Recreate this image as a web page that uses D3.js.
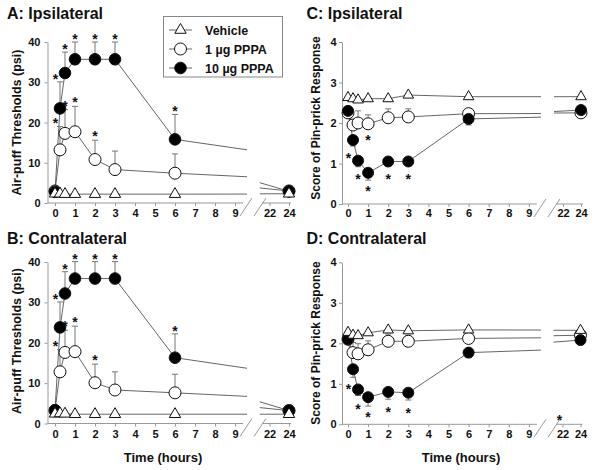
<!DOCTYPE html>
<html><head><meta charset="utf-8">
<script src="https://cdn.jsdelivr.net/npm/d3@7"></script>
<style>
body{margin:0;background:#fff}
svg{display:block}
text{font-family:"Liberation Sans",Arial,sans-serif;font-weight:bold;fill:#111}
</style>
</head><body>
<svg id="c" width="600" height="470"></svg>
<script>
// ---------- data ----------
const times = [0, 0.25, 0.5, 1, 2, 3, 6, 24];
const xTicks1 = [0, 1, 2, 3, 4, 5, 6, 7, 8, 9];
const xTicks2 = [22, 24];
const airTicks = [0, 10, 20, 30, 40];
const pinTicks = [0, 1, 2, 3, 4];
const seriesNames = ["Vehicle", "1 \u00b5g PPPA", "10 \u00b5g PPPA"];
const panelTitles = ["A: Ipsilateral", "B: Contralateral", "C: Ipsilateral", "D: Contralateral"];
const airLabel = "Air-puff Thresholds (psi)";
const pinLabel = "Score of Pin-prick Response";
const timeLabel = "Time (hours)";

// A: ipsilateral air-puff
const aVeh   = [2.3, 2.3, 2.2, 2.2, 2.2, 2.2, 2.2, 2.3];
const aLo    = [3.0, 13.2, 17.3, 17.7, 10.8, 8.3, 7.4, 3.0];
const aLoErr = [0, 5.8, 5.9, 6.3, 4.8, 4.6, 4.8, 0];
const aHi    = [2.8, 23.5, 32.3, 35.7, 35.7, 35.7, 15.8, 2.9];
const aHiErr = [0, 6.6, 5.2, 4.3, 4.3, 4.3, 6.2, 0];
const aLoSig = [0, 1, 1, 1, 1, 0, 0, 0];
const aHiSig = [0, 1, 1, 1, 1, 1, 1, 0];

// B: contralateral air-puff
const bVeh   = [2.4, 2.5, 2.4, 2.3, 2.3, 2.3, 2.3, 2.3];
const bLo    = [3.2, 12.8, 17.6, 17.8, 10.1, 8.3, 7.6, 3.2];
const bLoErr = [0, 5.5, 5.5, 6.3, 4.6, 4.5, 4.6, 0];
const bHi    = [3.3, 23.8, 32.2, 35.9, 35.9, 35.9, 16.3, 3.2];
const bHiErr = [0, 6.3, 5.4, 4.2, 4.2, 4.2, 5.9, 0];
const bLoSig = [0, 1, 1, 1, 1, 0, 0, 0];
const bHiSig = [0, 1, 1, 1, 1, 1, 1, 0];

// C: ipsilateral pin-prick
const cVeh   = [2.63, 2.6, 2.57, 2.6, 2.6, 2.69, 2.65, 2.65];
const cLo    = [2.25, 1.95, 2.0, 1.98, 2.13, 2.15, 2.23, 2.25];
const cLoErr = [0, 0.1, 0.3, 0.22, 0.22, 0.2, 0.05, 0];
const cHi    = [2.3, 1.58, 1.07, 0.77, 1.05, 1.05, 2.1, 2.32];
const cHiErr = [0, 0.15, 0.15, 0.18, 0.12, 0.1, 0.15, 0];
const cLoSig = [0, 0, 0, 1, 0, 0, 0, 0];
const cHiSig = [0, 1, 1, 1, 1, 1, 0, 0];

// D: contralateral pin-prick
const dVeh   = [2.27, 2.2, 2.19, 2.26, 2.33, 2.31, 2.33, 2.32];
const dLo    = [2.1, 1.77, 1.74, 1.84, 2.05, 2.05, 2.12, 2.2];
const dLoErr = [0, 0.25, 0.25, 0.22, 0.18, 0.15, 0.05, 0];
const dHi    = [2.1, 1.36, 0.86, 0.67, 0.8, 0.78, 1.77, 2.08];
const dHiErr = [0, 0.2, 0.15, 0.22, 0.18, 0.18, 0.12, 0];
const dLoSig = [0, 0, 0, 0, 0, 0, 0, 0];
const dHiSig = [0, 1, 1, 1, 1, 1, 0, 0];
const dExtraStarTimes = [22];

// ---------- drawing ----------
const svg = d3.select("#c");
const AX = "#999", LINE = "#666", ERR = "#777", MK = "#111";
const BREAK_END = 9.6, BREAK_START = 21;
const fmt = d3.format("d");

const panels = [
  {title: panelTitles[0], tx: 7, ty: 19, yAxisX: 47.5, x0: 55, pxh: 20, x24: 289, pxh2: 9.75,
   y0: 203, yTop: 42, yMax: 40, yTicks: airTicks, ylab: airLabel, ylx: 21, yly: 122.5, ylfs: 12.5,
   veh: aVeh, lo: aLo, loErr: aLoErr, hi: aHi, hiErr: aHiErr, loSig: aLoSig, hiSig: aHiSig,
   hiDown: false, labOff: 3.5, triSize: 56, rW: 6, rB: 5.8, ypad: 4},
  {title: panelTitles[1], tx: 7, ty: 243.5, yAxisX: 47.5, x0: 55, pxh: 20, x24: 289, pxh2: 9.75,
   y0: 423.5, yTop: 262, yMax: 40, yTicks: airTicks, ylab: airLabel, ylx: 21, yly: 341, ylfs: 12.5,
   veh: bVeh, lo: bLo, loErr: bLoErr, hi: bHi, hiErr: bHiErr, loSig: bLoSig, hiSig: bHiSig,
   hiDown: false, labOff: 3.5, triSize: 56, rW: 6, rB: 5.8, ypad: 4, xlab: true, xlx: 163},
  {title: panelTitles[2], tx: 306.5, ty: 19, yAxisX: 342, x0: 348, pxh: 20.1, x24: 581, pxh2: 9,
   y0: 204, yTop: 42, yMax: 4, yTicks: pinTicks, ylab: pinLabel, ylx: 319.5, yly: 118, ylfs: 12,
   veh: cVeh, lo: cLo, loErr: cLoErr, hi: cHi, hiErr: cHiErr, loSig: cLoSig, hiSig: cHiSig,
   hiDown: true, starGap: 15, labOff: 2.5, triSize: 48, rW: 6, rB: 5.5, ypad: 2.5},
  {title: panelTitles[3], tx: 306.5, ty: 243.5, yAxisX: 342, x0: 348, pxh: 20.1, x24: 580.5, pxh2: 9,
   y0: 424.3, yTop: 262.3, yMax: 4, yTicks: pinTicks, ylab: pinLabel, ylx: 319.5, yly: 343, ylfs: 12,
   veh: dVeh, lo: dLo, loErr: dLoErr, hi: dHi, hiErr: dHiErr, loSig: dLoSig, hiSig: dHiSig,
   hiDown: true, starGap: 17, labOff: 2.5, triSize: 48, rW: 6, rB: 5.5, ypad: 2.5,
   extraStars: dExtraStarTimes, xlab: true, xlx: 461}
];

function drawPanel(p) {
  const g = svg.append("g");
  const ys = d3.scaleLinear().domain([0, p.yMax]).range([p.y0, p.yTop]);
  const xa = d3.scaleLinear().domain([0, 9]).range([p.x0, p.x0 + 9 * p.pxh]);
  const xb = d3.scaleLinear().domain([22, 24]).range([p.x24 - 2 * p.pxh2, p.x24]);
  const X = t => (t < 15 ? xa(t) : xb(t));

  // title
  g.append("text").attr("x", p.tx).attr("y", p.ty).style("font-size", "16px").text(p.title);

  // y axis
  const ya = g.append("g").attr("transform", `translate(${p.yAxisX},0)`)
    .call(d3.axisLeft(ys).tickValues(p.yTicks).tickFormat(fmt).tickSize(3).tickSizeOuter(0).tickPadding(p.ypad));
  ya.select(".domain").attr("stroke", AX);
  ya.selectAll(".tick line").attr("stroke", AX);
  ya.selectAll(".tick text").style("font-size", "11px").attr("fill", "#111");

  // x axis segments
  [[xa, xTicks1], [xb, xTicks2]].forEach(([sc, tv]) => {
    const xg = g.append("g").attr("transform", `translate(0,${p.y0})`)
      .call(d3.axisBottom(sc).tickValues(tv).tickFormat(fmt).tickSize(3).tickPadding(p.labOff));
    xg.select(".domain").remove();
    xg.selectAll(".tick line").attr("stroke", AX);
    xg.selectAll(".tick text").style("font-size", "11px").attr("fill", "#111");
  });
  g.append("line").attr("x1", p.yAxisX).attr("x2", xa(BREAK_END) - 4)
    .attr("y1", p.y0).attr("y2", p.y0).attr("stroke", AX);
  const s2 = xa(BREAK_END) - 1 + 14;
  g.append("line").attr("x1", s2 + 2).attr("x2", xb(24) + 2)
    .attr("y1", p.y0).attr("y2", p.y0).attr("stroke", AX);
  // break marks
  [xa(BREAK_END) - 1, s2].forEach(cx => {
    g.append("line").attr("x1", cx - 6).attr("y1", p.y0 + 13)
      .attr("x2", cx + 6).attr("y2", p.y0 - 5).attr("stroke", AX);
  });

  // y label
  g.append("text").attr("transform", `translate(${p.ylx},${p.yly}) rotate(-90)`)
    .attr("text-anchor", "middle").style("font-size", p.ylfs + "px").text(p.ylab);
  if (p.xlab) {
    g.append("text").attr("x", p.xlx).attr("y", 461.5).attr("text-anchor", "middle")
      .style("font-size", "13px").text(timeLabel);
  }

  // lines (broken across axis gap, linear in time)
  const line = d3.line().x(d => X(d[0])).y(d => ys(d[1]));
  [p.veh, p.lo, p.hi].forEach(vals => {
    const i6 = times.indexOf(6), i24 = times.indexOf(24);
    const interp = d3.interpolateNumber(vals[i6], vals[i24]);
    const f = t => interp((t - 6) / 18);
    const early = times.map((t, i) => [t, vals[i]]).filter(d => d[0] <= 6);
    early.push([BREAK_END, f(BREAK_END)]);
    g.append("path").attr("d", line(early)).attr("fill", "none").attr("stroke", LINE).attr("stroke-width", 1);
    g.append("path").attr("d", line([[BREAK_START, f(BREAK_START)], [24, vals[i24]]]))
      .attr("fill", "none").attr("stroke", LINE).attr("stroke-width", 1);
  });

  // error bars
  function errBars(vals, errs, down) {
    times.forEach((t, i) => {
      if (!errs[i]) return;
      const x = X(t), yv = ys(vals[i]), ye = ys(down ? vals[i] - errs[i] : vals[i] + errs[i]);
      g.append("line").attr("x1", x).attr("x2", x).attr("y1", yv).attr("y2", ye).attr("stroke", ERR);
      g.append("line").attr("x1", x - 3).attr("x2", x + 3).attr("y1", ye).attr("y2", ye).attr("stroke", ERR);
    });
  }
  errBars(p.lo, p.loErr, false);
  errBars(p.hi, p.hiErr, p.hiDown);

  // markers: white, black, then vehicle triangles on top
  g.selectAll(null).data(times.map((t, i) => [t, p.lo[i]])).join("circle")
    .attr("cx", d => X(d[0])).attr("cy", d => ys(d[1])).attr("r", p.rW)
    .attr("fill", "#fff").attr("stroke", MK);
  g.selectAll(null).data(times.map((t, i) => [t, p.hi[i]])).join("circle")
    .attr("cx", d => X(d[0])).attr("cy", d => ys(d[1])).attr("r", p.rB)
    .attr("fill", "#000").attr("stroke", MK);
  const tri = d3.symbol(d3.symbolTriangle, p.triSize);
  g.selectAll(null).data(times.map((t, i) => [t, p.veh[i]])).join("path")
    .attr("d", tri).attr("transform", d => `translate(${X(d[0])},${ys(d[1])})`)
    .attr("fill", "#fff").attr("stroke", MK);

  // significance stars
  function star(x, cy) {
    g.append("text").attr("x", x).attr("y", cy + 8).attr("text-anchor", "middle")
      .style("font-size", "14px").text("*");
  }
  times.forEach((t, i) => {
    const dx = t === 0.25 ? -4.5 : 0;
    if (!p.hiDown) {
      if (p.hiSig[i]) star(X(t) + dx, ys(p.hi[i] + p.hiErr[i]) - 6);
      if (p.loSig[i]) star(X(t) + dx, ys(p.lo[i] + p.loErr[i]) - 7);
    } else {
      if (p.hiSig[i]) star(X(t) + dx, Math.max(ys(p.hi[i] - p.hiErr[i]) + 8, ys(p.hi[i]) + p.starGap));
      if (p.loSig[i]) star(X(t) + dx, ys(p.lo[i]) + 13);
    }
  });
  (p.extraStars || []).forEach(t => star(X(t) - 3, p.y0 - 7));
}

panels.forEach(drawPanel);

// legend
const lg = svg.append("g");
lg.append("rect").attr("x", 163.5).attr("y", 16.5).attr("width", 119).attr("height", 60.5)
  .attr("fill", "#fff").attr("stroke", "#888");
const rowsY = [30, 49, 68];
seriesNames.forEach((name, i) => {
  const y = rowsY[i];
  lg.append("line").attr("x1", 169).attr("x2", 192).attr("y1", y).attr("y2", y).attr("stroke", LINE);
  if (i === 0) {
    lg.append("path").attr("d", d3.symbol(d3.symbolTriangle, 56)).attr("transform", `translate(180.5,${y})`)
      .attr("fill", "#fff").attr("stroke", MK);
  } else {
    lg.append("circle").attr("cx", 180.5).attr("cy", y).attr("r", i === 1 ? 6 : 5.8)
      .attr("fill", i === 1 ? "#fff" : "#000").attr("stroke", MK);
  }
  lg.append("text").attr("x", 205).attr("y", y + 4.5).style("font-size", "12.5px").text(name);
});
</script>
</body></html>
